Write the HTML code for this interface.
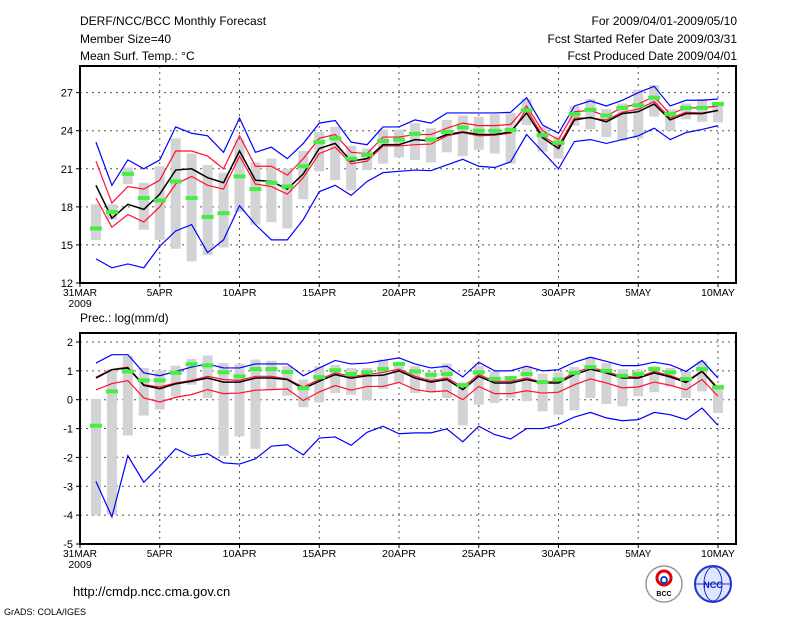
<!DOCTYPE html>
<html><head><meta charset="utf-8"><style>
html,body{margin:0;padding:0;background:#fff;}
svg{display:block;font-family:"Liberation Sans",sans-serif;}
</style></head><body>
<svg id="c" width="800" height="618" viewBox="0 0 800 618">
<g font-size="12" fill="#000">
<text x="80" y="25">DERF/NCC/BCC Monthly Forecast</text>
<text x="80" y="43">Member Size=40</text>
<text x="80" y="60">Mean Surf. Temp.: °C</text>
<text x="737" y="25" text-anchor="end">For 2009/04/01-2009/05/10</text>
<text x="737" y="43" text-anchor="end">Fcst Started Refer Date 2009/03/31</text>
<text x="737" y="60" text-anchor="end">Fcst Produced Date 2009/04/01</text>
<text x="80" y="322">Prec.: log(mm/d)</text>
<text x="73" y="596" font-size="13">http://cmdp.ncc.cma.gov.cn</text>
<text x="4" y="615" font-size="9">GrADS: COLA/IGES</text>
</g>
<g>
<circle cx="664" cy="584" r="18" fill="#fff" stroke="#999" stroke-width="1.5"/>
<circle cx="664" cy="578" r="7" fill="none" stroke="#d00" stroke-width="3"/>
<circle cx="664" cy="580" r="3" fill="none" stroke="#14c" stroke-width="2"/>
<text x="664" y="596" font-size="7" text-anchor="middle" font-weight="bold">BCC</text>
</g>
<g>
<circle cx="713" cy="584" r="18" fill="#dfe6ff" stroke="#23c" stroke-width="2"/>
<ellipse cx="713" cy="584" rx="9" ry="17" fill="none" stroke="#23c"/>
<line x1="695" y1="584" x2="731" y2="584" stroke="#23c"/>
<text x="713" y="588" font-size="9" text-anchor="middle" fill="#12b" font-weight="bold">NCC</text>
</g>
<g id="p1"></g>
<g id="p2"></g>
</svg>
<script>
// Temperature (day 1..40 = Apr1..May10)
const tBlueMax=[23.1,19.7,21.7,21.0,21.7,24.3,23.8,23.6,22.3,25.0,22.3,22.7,21.8,23.0,24.6,24.8,23.1,22.9,24.3,24.3,24.85,24.6,25.4,25.4,25.4,25.4,25.45,26.6,24.45,23.8,25.95,26.35,25.95,26.4,27.0,27.5,25.95,26.4,26.4,26.5];
const tRedUp=[21.6,18.3,19.6,19.4,20.1,22.4,22.4,22.0,21.0,23.6,21.2,21.2,20.5,21.8,23.4,23.7,22.3,22.2,23.5,23.5,23.7,23.7,24.2,24.6,24.4,24.4,24.5,25.95,24.0,23.3,25.5,25.6,25.15,25.85,26.1,26.7,25.3,25.8,25.8,25.95];
const tMean=[19.7,17.1,18.2,17.8,19.0,20.9,21.0,20.3,19.9,22.4,20.1,20.0,19.4,20.6,22.6,23.0,21.6,21.8,22.9,22.9,23.3,23.2,23.7,23.9,23.7,23.7,23.9,25.4,23.45,22.6,24.85,25.05,24.7,25.35,25.5,26.1,24.85,25.35,25.35,25.6];
const tRedLow=[18.7,16.4,17.4,16.8,18.0,19.8,20.4,19.7,19.4,22.0,19.8,19.6,19.0,20.3,22.2,22.7,21.4,21.6,22.8,22.8,22.9,22.95,23.6,23.85,23.6,23.65,23.8,25.7,23.6,22.8,25.0,25.0,24.85,25.45,25.7,26.3,25.0,25.45,25.4,25.6];
const tBlueMin=[13.9,13.2,13.5,13.2,14.9,16.1,16.6,14.4,15.4,18.1,16.6,15.4,15.4,17.0,19.2,19.7,18.9,20.0,20.7,20.8,20.9,20.85,21.3,21.75,21.2,21.1,21.55,23.7,22.35,21.0,23.15,23.3,23.0,23.3,23.6,24.2,23.3,23.85,24.1,24.4];
const tBarTop=[18.2,18.2,21.1,19.9,21.2,23.4,22.2,21.3,20.7,23.3,21.5,21.8,21.0,22.4,23.9,24.3,22.8,22.6,24.1,24.1,24.6,24.2,24.85,25.2,25.1,25.3,25.4,26.5,24.3,23.55,25.95,26.5,25.7,26.15,27.25,27.6,25.7,26.15,26.5,26.3];
const tBarBot=[15.4,17.0,19.8,16.2,15.4,14.7,13.7,14.2,14.8,17.6,16.6,16.8,16.3,18.6,20.8,20.1,19.3,20.9,21.4,21.9,21.7,21.5,22.3,22.0,22.5,22.2,21.4,24.45,22.35,21.8,24.4,24.1,23.5,23.2,23.4,25.1,24.0,24.9,24.7,24.65];
const tObs=[16.3,17.6,20.6,18.7,18.5,20.0,18.7,17.2,17.5,20.4,19.4,19.9,19.6,21.2,23.1,23.4,21.8,22.1,23.2,23.3,23.75,23.3,23.9,24.25,24.0,24.0,24.05,25.6,23.65,23.05,25.3,25.65,25.2,25.8,26.0,26.6,25.3,25.8,25.8,26.1];
const tTicks=[12,15,18,21,24,27];
// Precipitation
const pBlueMax=[1.27,1.56,1.56,0.93,0.83,0.98,1.13,1.24,1.1,1.1,1.24,1.24,1.24,0.83,1.1,1.36,1.24,1.27,1.36,1.45,1.24,1.1,1.16,0.79,1.3,1.0,1.0,1.16,1.0,1.04,1.3,1.47,1.33,1.18,1.18,1.3,1.21,0.98,1.36,0.75];
const pRedUp=[0.78,1.05,1.13,0.52,0.44,0.58,0.67,0.81,0.7,0.67,0.81,0.81,0.72,0.44,0.7,0.93,0.81,0.87,0.95,1.06,0.81,0.66,0.75,0.44,0.87,0.64,0.64,0.75,0.61,0.64,0.93,1.13,0.98,0.81,0.78,0.98,0.83,0.64,1.0,0.41];
const pMean=[0.75,1.04,1.1,0.5,0.38,0.55,0.64,0.75,0.61,0.61,0.75,0.75,0.7,0.38,0.64,0.87,0.75,0.83,0.85,1.0,0.75,0.61,0.7,0.35,0.81,0.58,0.58,0.7,0.58,0.58,0.87,1.06,0.93,0.75,0.75,0.93,0.79,0.6,0.98,0.37];
const pRedLow=[0.34,0.56,0.66,0.06,-0.08,0.08,0.18,0.35,0.21,0.23,0.33,0.35,0.37,-0.03,0.27,0.49,0.33,0.46,0.46,0.6,0.35,0.27,0.31,0.0,0.46,0.21,0.21,0.31,0.23,0.26,0.52,0.72,0.58,0.41,0.44,0.61,0.5,0.34,0.7,0.12];
const pBlueMin=[-2.83,-4.06,-1.94,-2.86,-2.3,-1.7,-1.96,-1.87,-2.19,-2.23,-2.05,-1.61,-1.56,-1.91,-1.33,-1.29,-1.58,-1.13,-0.92,-1.18,-1.15,-1.15,-1.01,-1.46,-0.92,-1.21,-1.36,-1.0,-1.0,-0.86,-0.6,-0.44,-0.63,-0.73,-0.69,-0.44,-0.52,-0.69,-0.29,-0.89];
const pBarTop=[0.03,1.06,1.52,1.1,1.02,1.18,1.41,1.53,1.27,1.25,1.39,1.35,1.16,0.7,1.16,1.21,1.1,1.1,1.39,1.3,1.16,0.98,1.25,0.6,1.18,0.98,0.81,1.16,0.9,0.95,1.13,1.48,1.27,1.06,1.04,1.16,1.1,0.98,1.33,0.52];
const pBarBot=[-4.0,-3.98,-1.24,-0.55,-0.34,0.12,0.52,0.06,-1.94,-1.27,-1.7,0.33,0.14,-0.26,-0.09,0.23,0.17,-0.02,0.37,0.6,0.23,0.26,0.06,-0.89,-0.17,-0.11,0.06,-0.05,-0.4,-0.52,-0.37,0.06,-0.15,-0.23,0.12,0.26,0.46,0.06,0.29,-0.46];
const pObs=[-0.9,0.29,0.98,0.67,0.67,0.93,1.23,1.19,0.95,0.81,1.06,1.06,0.96,0.4,0.78,1.02,0.89,0.95,1.06,1.24,0.98,0.86,0.89,0.5,0.95,0.72,0.75,0.89,0.61,0.7,0.93,1.13,1.0,0.83,0.89,1.06,0.95,0.72,1.06,0.43];
const pTicks=[-5,-4,-3,-2,-1,0,1,2];
const xLabels=["31MAR","5APR","10APR","15APR","20APR","25APR","30APR","5MAY","10MAY"];
const xLabelDays=[0,5,10,15,20,25,30,35,40];

const NS="http://www.w3.org/2000/svg";
function mk(parent,tag,attrs){const e=document.createElementNS(NS,tag);for(const k in attrs)e.setAttribute(k,attrs[k]);parent.appendChild(e);return e;}
const L=80,R=736,DAYPX=15.95;
const xs=d=>L+d*DAYPX;

function panel(g,top,bottom,vmin,vmax,pxPer,ticks,S,prefix){
  const ys=v=>bottom-(v-vmin)*pxPer;
  // grid
  ticks.forEach(t=>{ if(t===vmin) return;
    const l=mk(g,'line',{x1:L,x2:R,y1:ys(t),y2:ys(t),stroke:'#555','stroke-dasharray':'2,4','stroke-width':1});
    
    
  });
  xLabelDays.forEach(d=>{ if(d===0) return;
    const l=mk(g,'line',{x1:xs(d),x2:xs(d),y1:top,y2:bottom,stroke:'#555','stroke-dasharray':'2,4','stroke-width':1});
    
    
  });
  // bars
  for(let i=0;i<40;i++){
    const d=i+1,x=xs(d);
    const b=mk(g,'rect',{x:x-5,y:ys(S.bt[i]),width:10,height:Math.max(1,ys(S.bb[i])-ys(S.bt[i])),fill:'#d3d3d6'});
    
    
  }
  const line=(arr,col,w,name)=>{
    const p=mk(g,'polyline',{points:arr.map((v,i)=>xs(i+1)+','+ys(v)).join(' '),fill:'none',stroke:col,'stroke-width':w});
    
    
  };
  line(S.bmin,'#0000ff',1.2,prefix+'-min-line');
  line(S.bmax,'#0000ff',1.2,prefix+'-max-line');
  line(S.rl,'#ff1030',1.2,prefix+'-lower-line');
  line(S.ru,'#ff1030',1.2,prefix+'-upper-line');
  line(S.m,'#000',1.5,prefix+'-mean-line');
  for(let i=0;i<40;i++){
    const x=xs(i+1);
    const o=mk(g,'rect',{x:x-6,y:ys(S.o[i])-2,width:12,height:4,fill:'#44ee44'});
    
    
  }
  // frame
  const f=mk(g,'rect',{x:L,y:top,width:R-L,height:bottom-top,fill:'none',stroke:'#000','stroke-width':2});
  
  
  ticks.forEach(t=>{
    const tk=mk(g,'line',{x1:L-4,x2:L,y1:ys(t),y2:ys(t),stroke:'#000'});
    
    
    const tx=mk(g,'text',{x:L-7,y:ys(t)+4,'text-anchor':'end','font-size':11});
    tx.textContent=t;
    
    
  });
  xLabelDays.forEach((d,k)=>{
    const tk=mk(g,'line',{x1:xs(d),x2:xs(d),y1:bottom,y2:bottom+4,stroke:'#000'});
    
    
    const tx=mk(g,'text',{x:xs(d),y:bottom+13,'text-anchor':'middle','font-size':10.5,'textLength':xLabels[k].length>4?34:26,'lengthAdjust':'spacingAndGlyphs'});
    tx.textContent=xLabels[k];
    
    
  });
  const yr=mk(g,'text',{x:xs(0),y:bottom+24,'text-anchor':'middle','font-size':10.5});
  yr.textContent='2009';
  
  
}
panel(document.getElementById('p1'),66,283,12,27,12.69,tTicks,
  {bmax:tBlueMax,ru:tRedUp,m:tMean,rl:tRedLow,bmin:tBlueMin,bt:tBarTop,bb:tBarBot,o:tObs},'temp');
panel(document.getElementById('p2'),333,544,-5,2,28.86,pTicks,
  {bmax:pBlueMax,ru:pRedUp,m:pMean,rl:pRedLow,bmin:pBlueMin,bt:pBarTop,bb:pBarBot,o:pObs},'prec');
</script>
</body></html>
